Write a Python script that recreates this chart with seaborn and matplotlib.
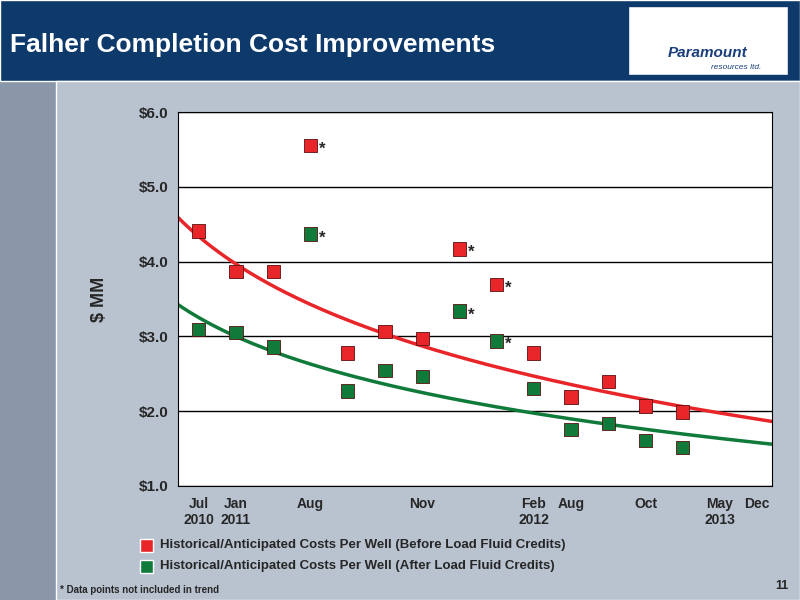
import numpy as np
import pandas as pd
import matplotlib.pyplot as plt
import seaborn as sns
from matplotlib.patches import Rectangle

sns.set_style("white")
plt.rcParams['font.family'] = ['Liberation Sans', 'DejaVu Sans']

# data (x = position index along the time axis)
x_pos = list(range(14))
before = [4.41, 3.87, 3.87, 5.56, 2.78, 3.07, 2.97, 4.17, 3.69, 2.78, 2.19, 2.40, 2.07, 1.99]
after = [3.09, 3.05, 2.86, 4.37, 2.27, 2.54, 2.46, 3.34, 2.94, 2.30, 1.76, 1.84, 1.61, 1.52]
starred = [3, 7, 8]
tick_pos = [0, 1, 3, 6, 9, 10, 12, 14, 15]
tick_labels = ['Jul\n2010', 'Jan\n2011', 'Aug', 'Nov', 'Feb\n2012', 'Aug', 'Oct', 'May\n2013', 'Dec']

df = pd.DataFrame({'x': x_pos * 2, 'cost': before + after,
                   'series': ['before'] * 14 + ['after'] * 14})
red, green = '#e8262a', '#0f7a3a'

fig = plt.figure(figsize=(8, 6), dpi=100)
fig.patch.set_facecolor('#8a97a8')
fig.patches.append(Rectangle((0, 0.865), 1, 0.135, transform=fig.transFigure,
                             facecolor='#0e3a6b', zorder=0))
fig.patches.append(Rectangle((0.07, 0), 0.93, 0.865, transform=fig.transFigure,
                             facecolor='#b9c3d0', zorder=0))
fig.patches.append(Rectangle((0.785, 0.875), 0.2, 0.115, transform=fig.transFigure,
                             facecolor='white', edgecolor='#0e3a6b', zorder=1))
fig.text(0.012, 0.925, 'Falher Completion Cost Improvements', color='white',
         fontsize=19, fontweight='bold', va='center')
fig.text(0.885, 0.905, 'Paramount', color='#1a3f7a', fontsize=11,
         fontweight='bold', fontstyle='italic', ha='center')
fig.text(0.92, 0.885, 'resources ltd.', color='#1a3f7a', fontsize=6,
         fontstyle='italic', ha='center')

ax = fig.add_axes([0.2225, 0.19, 0.7425, 0.623])
ax.set_zorder(5)
ax.set_facecolor('white')
sns.scatterplot(data=df, x='x', y='cost', hue='series', palette={'before': red, 'after': green},
                marker='s', s=90, edgecolor='#5a1010', linewidth=0.6, legend=False, ax=ax, zorder=3)

# logarithmic trend through the points not marked with *
xs = np.linspace(-0.55, 15.4, 200)
keep = [i for i in x_pos if i not in starred]
for vals, c in [(before, red), (after, green)]:
    xv = np.array(keep)
    yv = np.array([vals[i] for i in keep])
    b, a = np.polyfit(np.log(xv + 3.5), yv, 1)
    ax.plot(xs, a + b * np.log(xs + 3.5), color=c, lw=2.5, zorder=2)
    for i in starred:
        ax.text(i + 0.22, vals[i] - 0.05, '*', fontsize=12, fontweight='bold', va='center')

ax.set_xlim(-0.56, 15.4)
ax.set_ylim(1, 6)
ax.set_yticks([1, 2, 3, 4, 5, 6])
ax.set_yticklabels([f'${v:.1f}' for v in range(1, 7)], fontsize=11, fontweight='bold')
ax.set_xticks(tick_pos)
ax.set_xticklabels(tick_labels, fontsize=10, fontweight='bold')
ax.set_xticks(np.arange(-0.5, 15.5, 1), minor=True)
ax.tick_params(axis='x', which='minor', length=5, direction='out', color='black')
ax.tick_params(axis='x', which='major', length=0, pad=8)
ax.yaxis.grid(True, color='black', lw=1)
for s in ax.spines.values():
    s.set_color('black')
ax.set_xlabel('')
ax.set_ylabel('$ MM', fontsize=13, fontweight='bold', labelpad=22)

fig.patches.append(Rectangle((0.175, 0.08), 0.016, 0.022, transform=fig.transFigure,
                             facecolor=red, zorder=2))
fig.patches.append(Rectangle((0.175, 0.045), 0.016, 0.022, transform=fig.transFigure,
                             facecolor=green, zorder=2))
fig.text(0.2, 0.091, 'Historical/Anticipated Costs Per Well (Before Load Fluid Credits)',
         fontsize=9.5, fontweight='bold', va='center')
fig.text(0.2, 0.056, 'Historical/Anticipated Costs Per Well (After Load Fluid Credits)',
         fontsize=9.5, fontweight='bold', va='center')
fig.text(0.075, 0.012, '* Data points not included in trend', fontsize=7, fontweight='bold')
fig.text(0.985, 0.018, '11', fontsize=9, fontweight='bold', ha='right')

fig.savefig('out.png', dpi=100, facecolor=fig.get_facecolor())
